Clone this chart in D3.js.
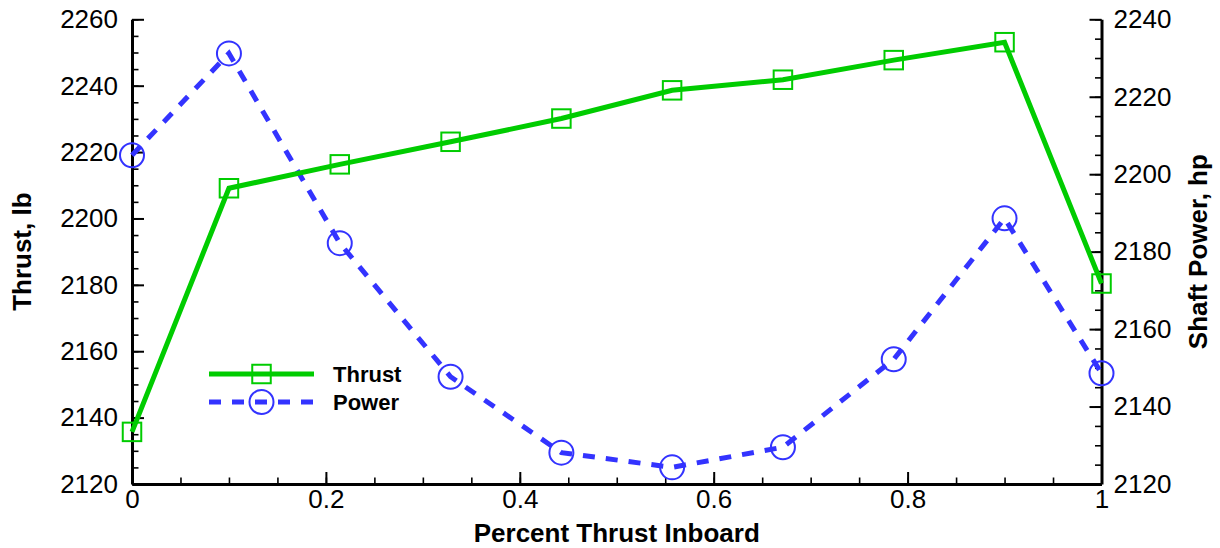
<!DOCTYPE html>
<html>
<head>
<meta charset="utf-8">
<script src="https://cdn.jsdelivr.net/npm/d3@7"></script>
<style>
  html, body { margin: 0; padding: 0; background: #fff; }
  svg { display: block; font-family: "Liberation Sans", Arial, sans-serif; }
</style>
</head>
<body>
<svg id="chart" width="1220" height="548"></svg>
<script>
// ---- data ----
const xValues = [0, 0.1, 0.2143, 0.3286, 0.4429, 0.5571, 0.6714, 0.7857, 0.9, 1.0];
const thrust  = [2135.7, 2209.1, 2216.3, 2223.1, 2230.1, 2238.6, 2241.8, 2247.7, 2253.1, 2180.4];
const power   = [2204.9, 2231.2, 2182.2, 2147.7, 2128.1, 2124.3, 2129.5, 2152.2, 2188.6, 2148.6];
const xTicks = [0, 0.2, 0.4, 0.6, 0.8, 1];
const leftTicks = [2120, 2140, 2160, 2180, 2200, 2220, 2240, 2260];
const rightTicks = [2120, 2140, 2160, 2180, 2200, 2220, 2240];
const seriesNames = ["Thrust", "Power"];

// ---- layout ----
const svg = d3.select("#chart");
const L = 132, R = 1101.5, T = 19.3, B = 484;
const green = "#00cc00", blue = "#3333ff";

const x = d3.scaleLinear().domain([0, 1]).range([L, R]);
const yL = d3.scaleLinear().domain([2120, 2260]).range([B, T]);
const yR = d3.scaleLinear().domain([2120, 2240]).range([B, T]);

const minor = (a, b, s) => d3.range(a, b + s / 2, s);

function styleAxis(g) {
  g.selectAll("text").attr("font-size", 26).attr("fill", "#000")
    .attr("font-family", "'Liberation Sans', Arial, sans-serif");
  g.selectAll("line").attr("stroke", "#000").attr("stroke-width", 2);
  g.select(".domain").attr("stroke", "#000").attr("stroke-width", 3);
}

// minor ticks
svg.append("g").attr("transform", `translate(${L},0)`)
  .call(d3.axisLeft(yL).tickValues(minor(2120, 2260, 5)).tickSize(-6.5).tickFormat(""))
  .call(g => { g.select(".domain").remove(); g.selectAll("line").attr("stroke", "#000").attr("stroke-width", 1.6); });
svg.append("g").attr("transform", `translate(${R},0)`)
  .call(d3.axisRight(yR).tickValues(minor(2120, 2240, 5)).tickSize(-6.5).tickFormat(""))
  .call(g => { g.select(".domain").remove(); g.selectAll("line").attr("stroke", "#000").attr("stroke-width", 1.6); });
svg.append("g").attr("transform", `translate(0,${B})`)
  .call(d3.axisBottom(x).tickValues(minor(0, 1, 0.05)).tickSize(-6.5).tickFormat(""))
  .call(g => { g.select(".domain").remove(); g.selectAll("line").attr("stroke", "#000").attr("stroke-width", 1.6); });

// major axes
svg.append("g").attr("transform", `translate(${L},0)`)
  .call(d3.axisLeft(yL).tickValues(leftTicks).tickSize(-12).tickSizeOuter(0).tickPadding(14).tickFormat(d3.format("d")))
  .call(styleAxis);
svg.append("g").attr("transform", `translate(${R},0)`)
  .call(d3.axisRight(yR).tickValues(rightTicks).tickSize(-12).tickSizeOuter(0).tickPadding(12).tickFormat(d3.format("d")))
  .call(styleAxis);
svg.append("g").attr("transform", `translate(0,${B})`)
  .call(d3.axisBottom(x).tickValues(xTicks).tickSize(-12).tickSizeOuter(0).tickPadding(6).tickFormat(d => d === 0 ? "0" : d === 1 ? "1" : d3.format(".1f")(d)))
  .call(styleAxis);

// axis titles
svg.append("text").attr("x", (L + R) / 2).attr("y", 542).attr("text-anchor", "middle")
  .attr("font-size", 26).attr("font-weight", "bold").text("Percent Thrust Inboard");
svg.append("text").attr("transform", `translate(31,${(T + B) / 2}) rotate(-90)`).attr("text-anchor", "middle")
  .attr("font-size", 26).attr("font-weight", "bold").text("Thrust, lb");
svg.append("text").attr("transform", `translate(1207,${(T + B) / 2}) rotate(-90)`).attr("text-anchor", "middle")
  .attr("font-size", 26).attr("font-weight", "bold").text("Shaft Power, hp");

// series
const thrustData = xValues.map((v, i) => [v, thrust[i]]);
const powerData = xValues.map((v, i) => [v, power[i]]);

svg.append("path").datum(powerData)
  .attr("fill", "none").attr("stroke", blue).attr("stroke-width", 5).attr("stroke-dasharray", "12,11")
  .attr("d", d3.line().x(d => x(d[0])).y(d => yR(d[1])));
svg.append("path").datum(thrustData)
  .attr("fill", "none").attr("stroke", green).attr("stroke-width", 5)
  .attr("d", d3.line().x(d => x(d[0])).y(d => yL(d[1])));

const sq = 18.5;
svg.append("g").selectAll("rect").data(thrustData).join("rect")
  .attr("x", d => x(d[0]) - sq / 2).attr("y", d => yL(d[1]) - sq / 2)
  .attr("width", sq).attr("height", sq)
  .attr("fill", "none").attr("stroke", green).attr("stroke-width", 2);
svg.append("g").selectAll("circle").data(powerData).join("circle")
  .attr("cx", d => x(d[0])).attr("cy", d => yR(d[1])).attr("r", 12)
  .attr("fill", "none").attr("stroke", blue).attr("stroke-width", 2);

// legend
const lg = svg.append("g");
const legY = [374, 402];
lg.append("line").attr("x1", 209).attr("x2", 314).attr("y1", legY[0]).attr("y2", legY[0])
  .attr("stroke", green).attr("stroke-width", 5);
lg.append("rect").attr("x", 261.5 - sq / 2).attr("y", legY[0] - sq / 2).attr("width", sq).attr("height", sq)
  .attr("fill", "none").attr("stroke", green).attr("stroke-width", 2);
lg.append("line").attr("x1", 209).attr("x2", 314).attr("y1", legY[1]).attr("y2", legY[1])
  .attr("stroke", blue).attr("stroke-width", 5).attr("stroke-dasharray", "12,11");
lg.append("circle").attr("cx", 261.5).attr("cy", legY[1]).attr("r", 12)
  .attr("fill", "none").attr("stroke", blue).attr("stroke-width", 2);
lg.selectAll("text.leg").data(seriesNames).join("text").attr("class", "leg")
  .attr("x", 333).attr("y", (d, i) => legY[i] + 7.5)
  .attr("font-size", 22).attr("font-weight", "bold").text(d => d);
</script>
</body>
</html>
